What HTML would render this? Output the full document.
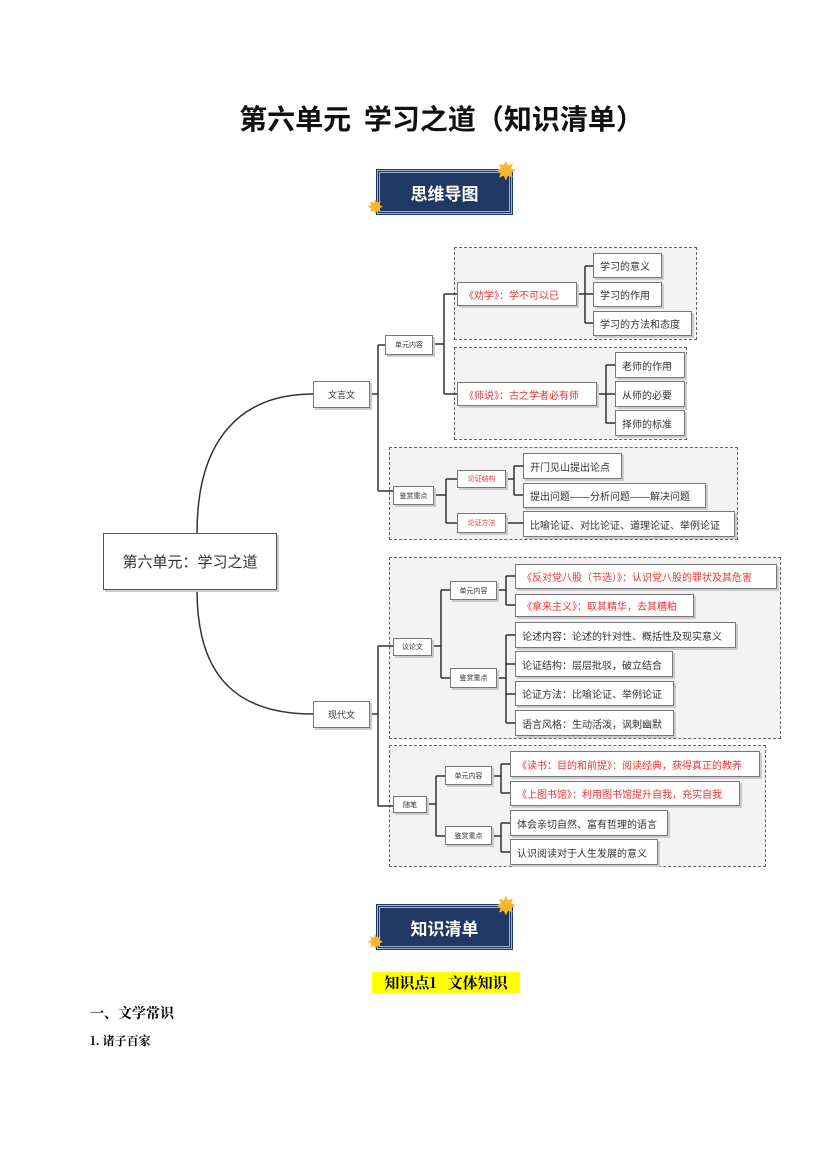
<!DOCTYPE html>
<html><head><meta charset="utf-8">
<style>
body{margin:0;width:827px;height:1169px;background:#fff;position:relative;overflow:hidden;font-family:"Liberation Sans","Noto Sans CJK SC",sans-serif;}
.a{position:absolute;}
.n{position:absolute;box-sizing:border-box;background:#fff;border:1px solid #777;box-shadow:2px 2px 0 #ccc;display:flex;align-items:center;padding-left:6px;color:#333;font-size:10px;white-space:nowrap;}
.s{font-size:7px;justify-content:center;padding-left:0;}
.r{color:#e33;}
.d{position:absolute;box-sizing:border-box;border:1.5px dashed #666;background:#f3f3f3;}
.badge{position:absolute;width:135px;height:44px;background:#1f3864;box-sizing:border-box;border:3px double #9fb0cc;outline:1px solid #1f3864;color:#fff;font-weight:bold;font-size:17px;display:flex;align-items:center;justify-content:center;font-family:"Noto Sans CJK SC",sans-serif;}
.star{position:absolute;color:#f5b82e;font-size:26px;line-height:1;}
</style></head><body>
<div class="a" style="left:28px;width:827px;top:98px;text-align:center;font-size:28px;font-weight:bold;font-family:'Noto Sans CJK SC',sans-serif;color:#111;">第六单元&nbsp; 学习之道（知识清单）</div>

<div class="badge" style="left:377px;top:170px;">思维导图</div>
<div class="star" style="left:495px;top:158px;">✸</div>
<div class="star" style="left:367px;top:198px;font-size:20px;">✸</div>

<div class="d" style="left:454px;top:247px;width:243px;height:93px;"></div>
<div class="d" style="left:454px;top:347px;width:233px;height:93px;"></div>
<div class="d" style="left:389px;top:447px;width:349px;height:93px;"></div>
<div class="d" style="left:389px;top:557px;width:392px;height:182px;"></div>
<div class="d" style="left:389px;top:745px;width:377px;height:122px;"></div>

<svg class="a" style="left:0;top:0" width="827" height="1169">
<g fill="none" stroke="#333" stroke-width="1.5">
<path d="M197,533 C197,440 240,394 313,394"/>
<path d="M197,590 C197,680 240,714 313,714"/>
<path d="M370,394 H378 M378,345 V491 M378,345 H385 M378,491 H393"/>
<path d="M433,344 H444 M444,294 V394 M444,294 H457 M444,394 H457"/>
<path d="M577,294 H585 M585,266 V323 M585,266 H593 M585,294 H593 M585,323 H593"/>
<path d="M597,394 H606 M606,365 V423 M606,365 H615 M606,394 H615 M606,423 H615"/>
<path d="M434,495 H446 M446,479 V523 M446,479 H457 M446,523 H457"/>
<path d="M506,479 H514 M514,466 V495 M514,466 H523 M514,495 H523"/>
<path d="M506,523 H523"/>
<path d="M370,714 H378 M378,646 V806 M378,646 H393 M378,806 H393"/>
<path d="M432,646 H441 M441,590 V678 M441,590 H450 M441,678 H450"/>
<path d="M497,590 H506 M506,576 V605 M506,576 H515 M506,605 H515"/>
<path d="M497,678 H506 M506,635 V723 M506,635 H515 M506,664 H515 M506,694 H515 M506,723 H515"/>
<path d="M427,804 H436 M436,776 V836 M436,776 H445 M436,836 H445"/>
<path d="M492,776 H501 M501,764 V793 M501,764 H510 M501,793 H510"/>
<path d="M492,836 H501 M501,823 V852 M501,823 H510 M501,852 H510"/>
</g></svg>

<div class="n" style="left:103px;top:533px;width:174px;height:57px;font-size:15px;justify-content:center;padding:0;border:1.5px solid #555;">第六单元：学习之道</div>
<div class="n s" style="left:313px;top:381px;width:57px;height:27px;font-size:9px;">文言文</div>
<div class="n s" style="left:313px;top:701px;width:57px;height:27px;font-size:9px;">现代文</div>

<div class="n s" style="left:385px;top:335px;width:48px;height:20px;">单元内容</div>
<div class="n r" style="left:457px;top:282px;width:120px;height:24px;">《劝学》：学不可以已</div>
<div class="n" style="left:593px;top:253px;width:69px;height:25px;">学习的意义</div>
<div class="n" style="left:593px;top:282px;width:69px;height:25px;">学习的作用</div>
<div class="n" style="left:593px;top:311px;width:99px;height:25px;">学习的方法和态度</div>
<div class="n r" style="left:457px;top:382px;width:140px;height:24px;">《师说》：古之学者必有师</div>
<div class="n" style="left:615px;top:352px;width:70px;height:26px;">老师的作用</div>
<div class="n" style="left:615px;top:381px;width:70px;height:26px;">从师的必要</div>
<div class="n" style="left:615px;top:410px;width:70px;height:26px;">择师的标准</div>
<div class="n s" style="left:393px;top:486px;width:41px;height:19px;">鉴赏重点</div>
<div class="n s r" style="left:457px;top:470px;width:49px;height:18px;">论证结构</div>
<div class="n s r" style="left:457px;top:513px;width:49px;height:20px;">论证方法</div>
<div class="n" style="left:523px;top:453px;width:99px;height:26px;">开门见山提出论点</div>
<div class="n" style="left:523px;top:483px;width:183px;height:25px;">提出问题——分析问题——解决问题</div>
<div class="n" style="left:523px;top:511px;width:212px;height:26px;">比喻论证、对比论证、道理论证、举例论证</div>

<div class="n s" style="left:393px;top:638px;width:39px;height:18px;">议论文</div>
<div class="n s" style="left:450px;top:581px;width:47px;height:19px;">单元内容</div>
<div class="n s" style="left:450px;top:668px;width:47px;height:20px;">鉴赏重点</div>
<div class="n r" style="left:515px;top:564px;width:262px;height:25px;">《反对党八股（节选）》：认识党八股的罪状及其危害</div>
<div class="n r" style="left:515px;top:594px;width:179px;height:23px;">《拿来主义》：取其精华，去其糟粕</div>
<div class="n" style="left:515px;top:622px;width:221px;height:26px;">论述内容：论述的针对性、概括性及现实意义</div>
<div class="n" style="left:515px;top:651px;width:158px;height:26px;">论证结构：层层批驳，破立结合</div>
<div class="n" style="left:515px;top:681px;width:159px;height:25px;">论证方法：比喻论证、举例论证</div>
<div class="n" style="left:515px;top:710px;width:159px;height:26px;">语言风格：生动活泼，讽刺幽默</div>

<div class="n s" style="left:393px;top:796px;width:34px;height:17px;">随笔</div>
<div class="n s" style="left:445px;top:766px;width:47px;height:19px;">单元内容</div>
<div class="n s" style="left:445px;top:826px;width:47px;height:19px;">鉴赏重点</div>
<div class="n r" style="left:510px;top:751px;width:250px;height:26px;">《读书：目的和前提》：阅读经典，获得真正的教养</div>
<div class="n r" style="left:510px;top:781px;width:230px;height:25px;">《上图书馆》：利用图书馆提升自我，充实自我</div>
<div class="n" style="left:510px;top:810px;width:158px;height:26px;">体会亲切自然、富有哲理的语言</div>
<div class="n" style="left:510px;top:839px;width:148px;height:26px;">认识阅读对于人生发展的意义</div>

<div class="badge" style="left:377px;top:905px;">知识清单</div>
<div class="star" style="left:495px;top:893px;">✸</div>
<div class="star" style="left:367px;top:933px;font-size:20px;">✸</div>

<div class="a" style="left:372px;top:972px;width:148px;height:21px;background:#ffff00;font-weight:bold;font-size:15px;line-height:21px;text-align:center;font-family:'Noto Serif CJK SC',serif;">知识点1&nbsp;&nbsp; 文体知识</div>
<div class="a" style="left:90px;top:1003px;font-weight:bold;font-size:14px;font-family:'Noto Serif CJK SC',serif;">一、文学常识</div>
<div class="a" style="left:90px;top:1032px;font-weight:bold;font-size:12px;font-family:'Noto Serif CJK SC',serif;">1. 诸子百家</div>
</body></html>
